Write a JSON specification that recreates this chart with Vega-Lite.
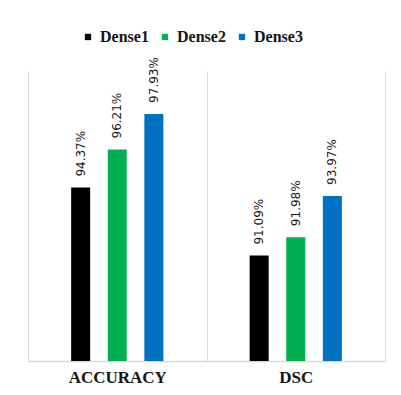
{
  "$schema": "https://vega.github.io/schema/vega-lite/v6.json",
  "width": 357,
  "height": 290,
  "autosize": {"type": "none"},
  "padding": {"left": 28, "top": 71, "right": 16, "bottom": 34},
  "background": "white",
  "config": {"view": {"stroke": null}},
  "data": {
    "values": [
      {"metric": "ACCURACY", "model": "Dense1", "value": 0.9437},
      {"metric": "ACCURACY", "model": "Dense2", "value": 0.9621},
      {"metric": "ACCURACY", "model": "Dense3", "value": 0.9793},
      {"metric": "DSC", "model": "Dense1", "value": 0.9109},
      {"metric": "DSC", "model": "Dense2", "value": 0.9198},
      {"metric": "DSC", "model": "Dense3", "value": 0.9397}
    ]
  },
  "encoding": {
    "x": {
      "field": "metric",
      "type": "nominal",
      "sort": ["ACCURACY", "DSC"],
      "scale": {"paddingInner": 0, "paddingOuter": 0},
      "axis": {
        "title": null,
        "labelAngle": 0,
        "ticks": false,
        "tickBand": "extent",
        "grid": true,
        "gridColor": "#d9d9d9",
        "gridWidth": 1,
        "domain": true,
        "domainColor": "#d9d9d9",
        "domainWidth": 1.5,
        "labelFont": "Liberation Serif",
        "labelFontWeight": "bold",
        "labelFontSize": 17,
        "labelColor": "#141414",
        "labelPadding": 8
      }
    },
    "xOffset": {
      "field": "model",
      "type": "nominal",
      "scale": {"paddingInner": 0.123, "paddingOuter": 1}
    },
    "y": {
      "field": "value",
      "type": "quantitative",
      "scale": {"domain": [0.86, 1.0], "zero": false, "clamp": true},
      "axis": null
    }
  },
  "layer": [
    {
      "mark": {"type": "bar", "width": 19},
      "encoding": {
        "color": {
          "field": "model",
          "type": "nominal",
          "scale": {
            "domain": ["Dense1", "Dense2", "Dense3"],
            "range": ["#000000", "#00b050", "#0070c0"]
          },
          "legend": {
            "orient": "none",
            "legendX": 52,
            "legendY": -42,
            "direction": "horizontal",
            "title": null,
            "symbolType": "square",
            "symbolSize": 40,
            "symbolStrokeWidth": 0,
            "labelFont": "Liberation Serif",
            "labelFontWeight": "bold",
            "labelFontSize": 16,
            "labelColor": "#141414",
            "labelOffset": 4,
            "columnPadding": 8
          }
        }
      }
    },
    {
      "mark": {
        "type": "text",
        "angle": -90,
        "align": "left",
        "baseline": "middle",
        "dx": 11,
        "font": "DejaVu Sans",
        "fontSize": 12,
        "letterSpacing": 1,
        "color": "#1a1a1a"
      },
      "encoding": {
        "text": {"field": "value", "type": "quantitative", "format": ".2%"}
      }
    }
  ]
}
